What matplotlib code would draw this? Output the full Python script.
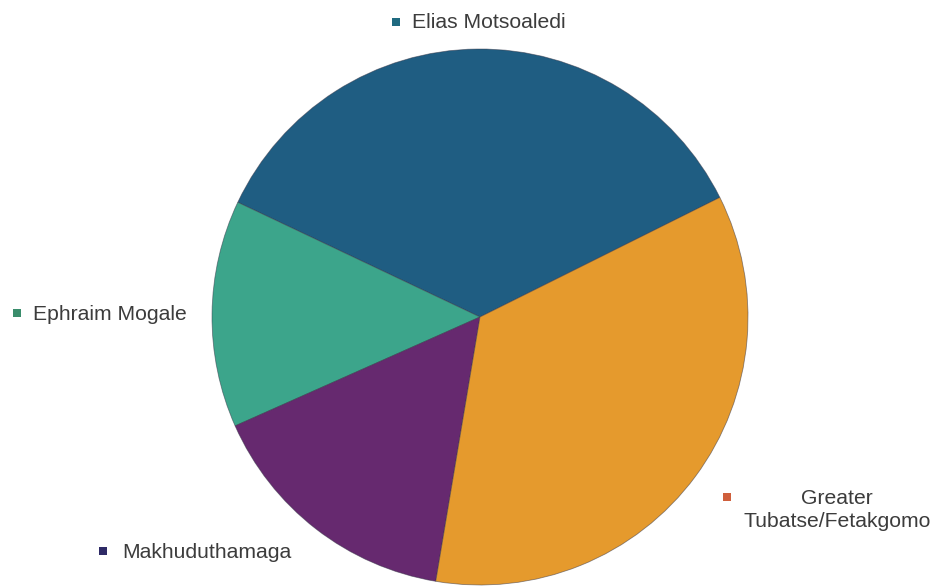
import matplotlib
matplotlib.use("Agg")
import matplotlib.pyplot as plt
from matplotlib.patches import Rectangle

# Share of each local municipality (percent)
municipalities = ["Elias Motsoaledi", "Ephraim Mogale", "Makhuduthamaga",
                  "Greater\nTubatse/Fetakgomo"]
shares = [35.6, 13.7, 15.7, 35.0]

slice_colors = ["#1f5d82", "#3ca58b", "#66296f", "#e59a2d"]
marker_colors = ["#1f6a80", "#3a8d6c", "#2e2a66", "#cf5f3c"]

W, H = 936, 588
fig = plt.figure(figsize=(W / 100, H / 100), dpi=100)
fig.patch.set_facecolor("white")

# Pie axes: centre (480, 317) px, radius 268 px
cx, cy, r = 480, 317, 268
ax = fig.add_axes([(cx - r) / W, (H - cy - r) / H, 2 * r / W, 2 * r / H])
ax.pie(shares, colors=slice_colors, startangle=26.5, counterclock=True,
       radius=1.0, wedgeprops=dict(linewidth=0.6, edgecolor="#33334488"))
ax.set_xlim(-1.0, 1.0)
ax.set_ylim(-1.0, 1.0)
ax.set_aspect("equal")
ax.axis("off")

# Label placement: (marker x, marker y, text x, text y, alignment) in pixels
label_layout = [
    (396, 22, 412, 22, "left"),
    (17, 313, 33, 314, "left"),
    (103, 551, 122, 553, "left"),
    (727, 497, 837, 510, "center"),
]

font = dict(family=["Liberation Sans", "DejaVu Sans"], size=15.2, color="#3c3c3c")
for name, mcol, (mx, my, tx, ty, ha) in zip(municipalities, marker_colors, label_layout):
    s = 8
    fig.add_artist(Rectangle(((mx - s / 2) / W, (H - my - s / 2) / H), s / W, s / H,
                             transform=fig.transFigure, facecolor=mcol,
                             edgecolor="none"))
    fig.text(tx / W, (H - ty) / H, name, ha=ha, va="center",
             multialignment="center", linespacing=1.3, **font)

fig.savefig("out.png", dpi=100, facecolor="white")
